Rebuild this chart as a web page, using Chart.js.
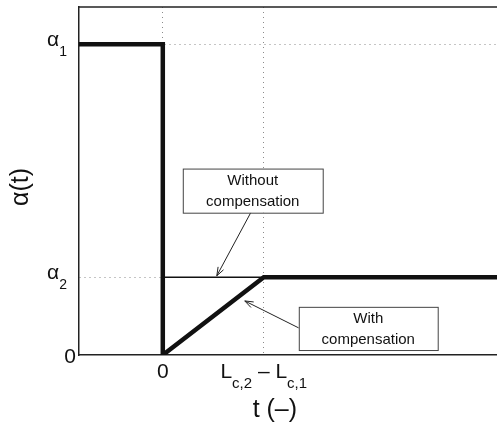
<!DOCTYPE html>
<html>
<head>
<meta charset="utf-8">
<script src="https://cdn.jsdelivr.net/npm/chart.js@4.4.0/dist/chart.umd.min.js"></script>
<style>
  html, body { margin: 0; padding: 0; background: #fff; overflow: hidden; }
  #wrap { width: 500px; height: 427px; }
</style>
</head>
<body>
<div id="wrap"><canvas id="chart"></canvas></div>
<script>
// axis limits / levels (t in units of L_c,2 - L_c,1, alpha in units of alpha_1)
const T_MIN = -0.83, T_MAX = 3.34;
const L_DIFF = 1;
const ALPHA1 = 1, ALPHA2 = 0.25, Y_MAX = 1.12;

// with compensation (thick)
const withT = [T_MIN, 0, 0, L_DIFF, T_MAX];
const withAlpha = [ALPHA1, ALPHA1, 0, ALPHA2, ALPHA2];
// without compensation (thin)
const withoutT = [0, T_MAX];
const withoutAlpha = [ALPHA2, ALPHA2];

// ticks: each label is a list of [text, subscript] pieces
const xTickValues = [0, L_DIFF];
const xTickLabels = [[['0', '']], [['L', 'c,2'], [' \u2013 ', ''], ['L', 'c,1']]];
const yTickValues = [0, ALPHA2, ALPHA1];
const yTickLabels = [[['0', '']], [['\u03b1', '2']], [['\u03b1', '1']]];

const FONT = '"Liberation Sans", Arial, sans-serif';

// text boxes with arrows, in data coordinates
const notes = [
    { lines: ['Without', 'compensation'], x0: 0.198, x1: 1.584, y0: 0.600, y1: 0.458,
      tail: [0.871, 0.458], head: [0.535, 0.255] },
    { lines: ['With', 'compensation'], x0: 1.347, x1: 2.723, y0: 0.155, y1: 0.016,
      tail: [1.347, 0.087], head: [0.812, 0.174] }
];

function richWidth(ctx, pieces, main, sub) {
    let w = 0;
    pieces.forEach(([t, s]) => {
        ctx.font = main + 'px ' + FONT; w += ctx.measureText(t).width;
        if (s) { ctx.font = sub + 'px ' + FONT; w += ctx.measureText(s).width; }
    });
    return w;
}

function drawRich(ctx, pieces, x, base, main, sub) {
    ctx.textAlign = 'left';
    ctx.textBaseline = 'alphabetic';
    pieces.forEach(([t, s]) => {
        ctx.font = main + 'px ' + FONT;
        ctx.fillText(t, x, base);
        x += ctx.measureText(t).width;
        if (s) {
            ctx.font = sub + 'px ' + FONT;
            ctx.fillText(s, x, base + 10);
            x += ctx.measureText(s).width;
        }
    });
}

function arrow(ctx, x1, y1, x2, y2) {
    const a = Math.atan2(y2 - y1, x2 - x1), len = 9, spread = 0.35;
    ctx.beginPath();
    ctx.moveTo(x1, y1); ctx.lineTo(x2, y2);
    ctx.moveTo(x2 - len * Math.cos(a - spread), y2 - len * Math.sin(a - spread));
    ctx.lineTo(x2, y2);
    ctx.lineTo(x2 - len * Math.cos(a + spread), y2 - len * Math.sin(a + spread));
    ctx.stroke();
}

const decorPlugin = {
    id: 'decor',
    afterDraw: (chart) => {
        const { ctx, chartArea: area, scales: { x, y } } = chart;
        ctx.save();
        ctx.fillStyle = '#111';

        // top frame line
        ctx.strokeStyle = '#222';
        ctx.lineWidth = 1.5;
        ctx.beginPath();
        ctx.moveTo(area.left, area.top); ctx.lineTo(area.right, area.top);
        ctx.stroke();

        // y tick labels
        yTickValues.forEach((v, i) => {
            const p = y.getPixelForValue(v);
            const pieces = yTickLabels[i];
            const hasSub = pieces.some(pc => pc[1]);
            const w = richWidth(ctx, pieces, 21, 14);
            const right = hasSub ? area.left - 12 : area.left - 3;
            drawRich(ctx, pieces, right - w, hasSub ? p + 2 : p + 8, 21, 14);
        });

        // x tick labels
        xTickValues.forEach((v, i) => {
            const p = x.getPixelForValue(v);
            const pieces = xTickLabels[i];
            const w = richWidth(ctx, pieces, 21, 15);
            drawRich(ctx, pieces, p - w / 2, area.bottom + 23, 21, 15);
        });

        // axis titles
        ctx.font = '25px ' + FONT;
        ctx.textAlign = 'center';
        ctx.textBaseline = 'alphabetic';
        ctx.fillText('t (\u2013)', x.getPixelForValue(1.11), area.bottom + 62);
        ctx.save();
        ctx.translate(28, (area.top + area.bottom) / 2 + 6);
        ctx.rotate(-Math.PI / 2);
        ctx.fillText('\u03b1(t)', 0, 0);
        ctx.restore();

        // annotation boxes
        notes.forEach(n => {
            const bx0 = x.getPixelForValue(n.x0), bx1 = x.getPixelForValue(n.x1);
            const by0 = y.getPixelForValue(n.y0), by1 = y.getPixelForValue(n.y1);
            ctx.strokeStyle = '#222';
            ctx.lineWidth = 1;
            arrow(ctx, x.getPixelForValue(n.tail[0]), y.getPixelForValue(n.tail[1]),
                  x.getPixelForValue(n.head[0]), y.getPixelForValue(n.head[1]));
            ctx.fillStyle = '#fff';
            ctx.fillRect(bx0, by0, bx1 - bx0, by1 - by0);
            ctx.strokeStyle = '#444';
            ctx.strokeRect(bx0 + 0.5, by0 + 0.5, bx1 - bx0, by1 - by0);
            ctx.fillStyle = '#111';
            ctx.font = '15px ' + FONT;
            ctx.textAlign = 'center';
            ctx.textBaseline = 'middle';
            const cx = (bx0 + bx1) / 2, cy = (by0 + by1) / 2;
            ctx.fillText(n.lines[0], cx, cy - 10);
            ctx.fillText(n.lines[1], cx, cy + 11);
        });
        ctx.restore();
    }
};

const gridStyle = { color: '#8a8a8a', lineWidth: 1, drawTicks: false };
const borderStyle = { display: true, color: '#222', width: 1.5, dash: [1, 4] };

new Chart(document.getElementById('chart'), {
    type: 'line',
    plugins: [decorPlugin],
    data: {
        datasets: [
            {
                label: 'With compensation',
                data: withT.map((t, i) => ({ x: t, y: withAlpha[i] })),
                borderColor: '#111',
                borderWidth: 4.5,
                pointRadius: 0,
                fill: false,
                tension: 0,
                borderJoinStyle: 'miter'
            },
            {
                label: 'Without compensation',
                data: withoutT.map((t, i) => ({ x: t, y: withoutAlpha[i] })),
                borderColor: '#111',
                borderWidth: 1.6,
                pointRadius: 0,
                fill: false,
                tension: 0
            }
        ]
    },
    options: {
        responsive: true,
        maintainAspectRatio: false,
        animation: false,
        layout: { padding: { left: 79, top: 7, right: 0, bottom: 72 } },
        plugins: { legend: { display: false }, tooltip: { enabled: false } },
        scales: {
            x: {
                type: 'linear',
                min: T_MIN, max: T_MAX,
                afterBuildTicks: (s) => { s.ticks = xTickValues.map(v => ({ value: v })); },
                ticks: { display: false },
                grid: gridStyle,
                border: borderStyle
            },
            y: {
                type: 'linear',
                min: 0, max: Y_MAX,
                afterBuildTicks: (s) => { s.ticks = yTickValues.map(v => ({ value: v })); },
                ticks: { display: false },
                grid: {
                    ...gridStyle,
                    color: (c) => c.tick && c.tick.value === 0 ? 'rgba(0,0,0,0)' : '#8a8a8a'
                },
                border: borderStyle
            }
        }
    }
});
</script>
</body>
</html>
